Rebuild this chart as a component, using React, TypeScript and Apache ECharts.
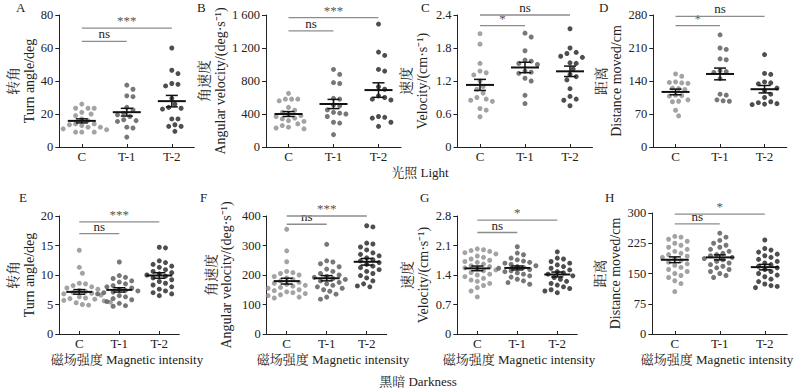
import React, { useEffect, useRef } from "react";
import * as echarts from "echarts";

// ---------- data ----------
const groupLabels = ["C", "T-1", "T-2"];

// Light: A turn angle (deg)
const lightTurnC = [26, 23.5, 23.5, 23.5, 21, 20, 19, 17, 16, 14, 14, 13.5, 13, 12, 12, 11, 10.5, 9, 9, 9];
const lightTurnT1 = [37.5, 35, 31, 30.5, 24, 22.5, 20.5, 19.5, 18.5, 16.5, 16, 15.5, 12, 11.5, 6];
const lightTurnT2 = [60, 46.5, 44.5, 38.5, 38, 37, 29.5, 26, 24, 23.5, 23, 17, 17, 13.5, 12.5, 12.5, 9.5];
// Light: B angular velocity
const lightAngVelC = [650, 580, 580, 580, 560, 480, 445, 420, 400, 380, 370, 350, 340, 320, 310, 280, 260, 240, 230, 220];
const lightAngVelT1 = [940, 880, 780, 770, 590, 580, 510, 500, 450, 420, 410, 400, 370, 300, 290, 150];
const lightAngVelT2 = [1490, 1150, 1110, 940, 920, 730, 700, 620, 600, 580, 570, 370, 360, 350, 300, 250];
// Light: C velocity
const lightVelC = [2.06, 1.87, 1.52, 1.38, 1.35, 1.31, 1.2, 1.1, 1.05, 0.98, 0.9, 0.87, 0.85, 0.83, 0.7, 0.67, 0.55];
const lightVelT1 = [2.07, 2.0, 1.75, 1.58, 1.56, 1.52, 1.5, 1.38, 1.36, 1.34, 1.25, 1.2, 0.94, 0.79];
const lightVelT2 = [2.15, 1.8, 1.72, 1.7, 1.65, 1.63, 1.53, 1.52, 1.42, 1.32, 1.28, 1.22, 1.06, 0.92, 0.87, 0.85, 0.75];
// Light: D distance moved
const lightDistC = [155, 150, 138, 137, 136, 135, 125, 124, 122, 110, 109, 108, 100, 97, 96, 78, 66];
const lightDistT1 = [238, 210, 207, 187, 185, 162, 160, 158, 145, 112, 110, 100, 98, 97];
const lightDistT2 = [196, 156, 154, 138, 136, 134, 125, 120, 112, 105, 96, 94, 92, 91, 90];

// Darkness: E turn angle
const darkTurnC = [14.2, 11.3, 10.3, 8.6, 8.5, 8.2, 8.0, 7.8, 7.6, 7.4, 7.2, 7.0, 6.9, 6.8, 6.6, 6.5, 6.3, 6.1, 6.0, 5.9, 5.7, 5.6, 5.5, 5.4, 5.3, 5.2, 5.0, 4.9];
const darkTurnT1 = [12.2, 9.9, 9.6, 9.4, 9.0, 8.8, 8.5, 8.2, 8.0, 7.8, 7.6, 7.4, 7.3, 7.1, 7.0, 6.8, 6.5, 6.3, 6.0, 5.8, 5.5, 5.2, 4.8, 4.7];
const darkTurnT2 = [14.7, 14.6, 12.4, 12.1, 11.8, 11.5, 11.3, 10.9, 10.6, 10.4, 10.2, 10.0, 9.8, 9.5, 9.2, 8.9, 8.6, 8.3, 8.0, 7.6, 7.3, 7.0, 6.8, 6.5];
// Darkness: F angular velocity
const darkAngVelC = [355, 282, 245, 212, 208, 205, 200, 195, 190, 185, 180, 175, 172, 168, 165, 162, 158, 155, 150, 147, 143, 140, 137, 133, 130, 125, 122];
const darkAngVelT1 = [304, 248, 244, 238, 228, 220, 212, 205, 200, 195, 192, 188, 185, 180, 175, 170, 165, 160, 155, 150, 145, 135, 125, 118];
const darkAngVelT2 = [367, 363, 308, 305, 295, 285, 275, 270, 265, 258, 252, 248, 242, 236, 230, 225, 218, 212, 205, 198, 190, 180, 170, 163, 160];
// Darkness: G velocity
const darkVelC = [2.02, 2.0, 1.98, 1.96, 1.93, 1.9, 1.85, 1.82, 1.78, 1.75, 1.72, 1.7, 1.66, 1.62, 1.6, 1.57, 1.55, 1.52, 1.5, 1.46, 1.42, 1.4, 1.36, 1.32, 1.28, 1.25, 1.2, 1.15, 1.1, 1.02, 0.88];
const darkVelT1 = [2.07, 1.92, 1.88, 1.8, 1.76, 1.73, 1.7, 1.68, 1.65, 1.62, 1.6, 1.58, 1.56, 1.53, 1.5, 1.48, 1.45, 1.42, 1.38, 1.35, 1.3, 1.26, 1.22, 1.18];
const darkVelT2 = [1.95, 1.8, 1.78, 1.72, 1.68, 1.64, 1.6, 1.56, 1.52, 1.48, 1.45, 1.42, 1.38, 1.34, 1.3, 1.25, 1.2, 1.16, 1.12, 1.08, 1.05, 1.02, 0.98];
// Darkness: H distance moved
const darkDistC = [242, 240, 235, 230, 225, 220, 215, 210, 205, 200, 197, 193, 190, 186, 182, 178, 174, 170, 165, 160, 155, 150, 145, 140, 132, 125, 105];
const darkDistT1 = [250, 240, 232, 225, 220, 215, 210, 205, 200, 197, 194, 190, 187, 184, 180, 176, 172, 168, 164, 160, 155, 150, 145, 140];
const darkDistT2 = [233, 212, 208, 203, 198, 194, 190, 185, 180, 176, 172, 168, 164, 160, 155, 150, 146, 142, 136, 130, 124, 120, 118, 115];

// significance comparisons (group index pairs and labels), lower bracket first
const lightTurnSig = [{ a: 0, b: 1, text: "ns" }, { a: 0, b: 2, text: "***" }];
const lightAngVelSig = [{ a: 0, b: 1, text: "ns" }, { a: 0, b: 2, text: "***" }];
const lightVelSig = [{ a: 0, b: 1, text: "*" }, { a: 0, b: 2, text: "ns" }];
const lightDistSig = [{ a: 0, b: 1, text: "*" }, { a: 0, b: 2, text: "ns" }];
const darkTurnSig = [{ a: 0, b: 1, text: "ns" }, { a: 0, b: 2, text: "***" }];
const darkAngVelSig = [{ a: 0, b: 1, text: "ns" }, { a: 0, b: 2, text: "***" }];
const darkVelSig = [{ a: 0, b: 1, text: "ns" }, { a: 0, b: 2, text: "*" }];
const darkDistSig = [{ a: 0, b: 1, text: "ns" }, { a: 0, b: 2, text: "*" }];

const panels = [
  { letter: "A", cn: "转角", en: "Turn angle/deg", max: 80, step: 20, groups: [lightTurnC, lightTurnT1, lightTurnT2], sig: lightTurnSig },
  { letter: "B", cn: "角速度", en: "Angular velocity/(deg·s⁻¹)", max: 1600, step: 400, groups: [lightAngVelC, lightAngVelT1, lightAngVelT2], sig: lightAngVelSig },
  { letter: "C", cn: "速度", en: "Velocity/(cm·s⁻¹)", max: 2.4, step: 0.6, groups: [lightVelC, lightVelT1, lightVelT2], sig: lightVelSig },
  { letter: "D", cn: "距离", en: "Distance moved/cm", max: 280, step: 70, groups: [lightDistC, lightDistT1, lightDistT2], sig: lightDistSig },
  { letter: "E", cn: "转角", en: "Turn angle/deg", max: 20, step: 5, groups: [darkTurnC, darkTurnT1, darkTurnT2], sig: darkTurnSig },
  { letter: "F", cn: "角速度", en: "Angular velocity/(deg·s⁻¹)", max: 400, step: 100, groups: [darkAngVelC, darkAngVelT1, darkAngVelT2], sig: darkAngVelSig },
  { letter: "G", cn: "速度", en: "Velocity/(cm·s⁻¹)", max: 2.8, step: 0.7, groups: [darkVelC, darkVelT1, darkVelT2], sig: darkVelSig },
  { letter: "H", cn: "距离", en: "Distance moved/cm", max: 300, step: 75, groups: [darkDistC, darkDistT1, darkDistT2], sig: darkDistSig },
];

const xAxisTitle = "磁场强度 Magnetic intensity";
const lightTitle = "光照 Light";
const darkTitle = "黑暗 Darkness";

// ---------- layout / style ----------
const layouts = [
  { left: 59.3, top: 15, width: 135, height: 132, nameGap: 21.5, sigFrac: [0.8, 0.9], lx: 16, ly: 7, mw: 14 },
  { left: 266, top: 15, width: 135, height: 132, nameGap: 36, sigFrac: [0.88, 0.98], lx: 197, ly: 7, mw: 14 },
  { left: 457.5, top: 15, width: 135, height: 132, nameGap: 27.5, sigFrac: [0.92, 1.0], lx: 421, ly: 7, mw: 14 },
  { left: 653.3, top: 15, width: 133.5, height: 132, nameGap: 27.5, sigFrac: [0.92, 0.99], lx: 599, ly: 7, mw: 14 },
  { left: 59.3, top: 216, width: 120, height: 118, nameGap: 21.5, sigFrac: [0.85, 0.95], lx: 19, ly: 197, mw: 13, xname: 127 },
  { left: 266.7, top: 216, width: 120, height: 118, nameGap: 32, sigFrac: [0.93, 1.0], lx: 200, ly: 197, mw: 13, xname: 333 },
  { left: 457.3, top: 216, width: 120, height: 118, nameGap: 26.5, sigFrac: [0.86, 0.965], lx: 420, ly: 197, mw: 13, xname: 519 },
  { left: 652.3, top: 213, width: 135, height: 121, nameGap: 26.5, sigFrac: [0.91, 0.99], lx: 605, ly: 197, mw: 14, xname: 717 },
];

const FONT = "'Liberation Serif', 'Times New Roman', 'Noto Serif CJK SC', 'Noto Sans CJK SC', serif";
const TEXT = "#222";
const AXIS = "#222";
const dotColors = ["#8c8c8c", "#555555", "#222222"];
const DOT = 5;

function swarmOffsets(vals: number[], pyu: number, d: number): number[] {
  const order = vals.map((_, i) => i).sort((a, b) => vals[b] - vals[a]);
  const placed: [number, number][] = [];
  const offs = new Array(vals.length).fill(0);
  for (const i of order) {
    const y = vals[i] * pyu;
    let chosen = 0;
    for (let k = 0; k < 80; k++) {
      const cand = k === 0 ? 0 : (k % 2 === 1 ? 1 : -1) * Math.ceil(k / 2) * d * 0.5;
      if (placed.every(([px, py]) => Math.hypot(px - cand, py - y) >= d)) {
        chosen = cand;
        break;
      }
    }
    placed.push([chosen, y]);
    offs[i] = chosen;
  }
  return offs;
}

function meanSem(v: number[]) {
  const n = v.length;
  const m = v.reduce((s, x) => s + x, 0) / n;
  const sd = Math.sqrt(v.reduce((s, x) => s + (x - m) * (x - m), 0) / (n - 1));
  return [m, sd / Math.sqrt(n)];
}

function fmtY(max: number) {
  return (v: number) => {
    if (v === 0) return "0";
    if (max < 10) return v.toFixed(1);
    if (v >= 1000) return `${Math.floor(v / 1000)} ${String(Math.round(v % 1000)).padStart(3, "0")}`;
    return String(Math.round(v));
  };
}

function buildOption() {
  const grids: any[] = [];
  const xAxes: any[] = [];
  const yAxes: any[] = [];
  const series: any[] = [];
  const graphics: any[] = [];

  panels.forEach((p, i) => {
    const L = layouts[i];
    grids.push({ left: L.left, top: L.top, width: L.width, height: L.height, containLabel: false });
    xAxes.push({
      gridIndex: i,
      type: "value",
      min: 0.5,
      max: 3.5,
      axisLine: { show: true, lineStyle: { color: AXIS, width: 1 } },
      axisTick: { show: true, inside: true, length: 3, customValues: [1, 2, 3], lineStyle: { color: AXIS } },
      axisLabel: {
        customValues: [1, 2, 3],
        formatter: (v: number) => groupLabels[Math.round(v) - 1] ?? "",
        color: TEXT,
        fontFamily: FONT,
        fontSize: 13,
        margin: 3,
      },
      splitLine: { show: false },
    });
    yAxes.push({
      gridIndex: i,
      type: "value",
      min: 0,
      max: p.max,
      interval: p.step,
      axisLine: { show: true, lineStyle: { color: AXIS, width: 1 } },
      axisTick: { show: true, length: 4, lineStyle: { color: AXIS } },
      axisLabel: { formatter: fmtY(p.max), color: TEXT, fontFamily: FONT, fontSize: 12.5, margin: 6 },
      splitLine: { show: false },
      name: `${p.cn}\n${p.en}`,
      nameLocation: "middle",
      nameRotate: 90,
      nameGap: L.nameGap,
      nameTextStyle: { color: TEXT, fontFamily: FONT, fontSize: 14, lineHeight: 15.5 },
    });

    const pyu = L.height / p.max;
    const pxu = L.width / 3;
    p.groups.forEach((vals, g) => {
      const offs = swarmOffsets(vals, pyu, 6.2);
      series.push({
        type: "scatter",
        xAxisIndex: i,
        yAxisIndex: i,
        symbol: "circle",
        symbolSize: DOT,
        itemStyle: { color: dotColors[g] },
        z: 2,
        data: vals.map((v, k) => [g + 1 + offs[k] / pxu, v]),
      });
    });

    const stats = p.groups.map((vals, g) => {
      const [m, s] = meanSem(vals);
      return [g + 1, m, s];
    });
    const mw = L.mw;
    series.push({
      type: "custom",
      xAxisIndex: i,
      yAxisIndex: i,
      z: 5,
      encode: { x: 0, y: 1 },
      data: stats,
      renderItem: (params: any, api: any) => {
        const x = api.value(0);
        const m = api.value(1);
        const s = api.value(2);
        const c = api.coord([x, m]);
        const hi = api.coord([x, m + s]);
        const lo = api.coord([x, m - s]);
        const st = { stroke: "#111", lineWidth: 2 };
        const st2 = { stroke: "#111", lineWidth: 1.5 };
        return {
          type: "group",
          children: [
            { type: "line", shape: { x1: c[0] - mw, y1: c[1], x2: c[0] + mw, y2: c[1] }, style: st },
            { type: "line", shape: { x1: c[0], y1: hi[1], x2: c[0], y2: lo[1] }, style: st2 },
            { type: "line", shape: { x1: c[0] - 6, y1: hi[1], x2: c[0] + 6, y2: hi[1] }, style: st2 },
            { type: "line", shape: { x1: c[0] - 6, y1: lo[1], x2: c[0] + 6, y2: lo[1] }, style: st2 },
          ],
        };
      },
    });

    const sigData = p.sig.map((s, k) => [s.a + 1, s.b + 1, L.sigFrac[k] * p.max]);
    const sigTexts = p.sig.map((s) => s.text);
    series.push({
      type: "custom",
      xAxisIndex: i,
      yAxisIndex: i,
      z: 4,
      clip: false,
      encode: { x: [0, 1], y: 2 },
      data: sigData,
      renderItem: (params: any, api: any) => {
        const a = api.coord([api.value(0), api.value(2)]);
        const b = api.coord([api.value(1), api.value(2)]);
        const txt = sigTexts[params.dataIndex];
        return {
          type: "group",
          children: [
            { type: "line", shape: { x1: a[0], y1: a[1], x2: b[0], y2: b[1] }, style: { stroke: "#8c8c8c", lineWidth: 1.3 } },
            {
              type: "text",
              x: (a[0] + b[0]) / 2,
              y: a[1] - 1,
              style: {
                text: txt,
                textAlign: "center",
                textVerticalAlign: "bottom",
                fill: txt === "ns" ? "#222" : "#555",
                fontFamily: FONT,
                fontSize: 13,
              },
            },
          ],
        };
      },
    });

    graphics.push({
      type: "text",
      left: L.lx,
      top: L.ly - 6,
      style: { text: p.letter, fill: TEXT, fontFamily: FONT, fontSize: 13 },
    });
    if ((L as any).xname !== undefined) {
      graphics.push({
        type: "text",
        x: (L as any).xname,
        y: 359,
        style: { text: xAxisTitle, fill: TEXT, fontFamily: FONT, fontSize: 13, textAlign: "center", textVerticalAlign: "middle" },
      });
    }
  });

  graphics.push({
    type: "text",
    x: 420,
    y: 172,
    style: { text: lightTitle, fill: TEXT, fontFamily: FONT, fontSize: 13, textAlign: "center", textVerticalAlign: "middle" },
  });
  graphics.push({
    type: "text",
    x: 418,
    y: 381,
    style: { text: darkTitle, fill: TEXT, fontFamily: FONT, fontSize: 13, textAlign: "center", textVerticalAlign: "middle" },
  });

  return {
    animation: false,
    backgroundColor: "#ffffff",
    textStyle: { fontFamily: FONT },
    grid: grids,
    xAxis: xAxes,
    yAxis: yAxes,
    series,
    graphic: graphics,
  };
}

export default function App() {
  const ref = useRef<HTMLDivElement>(null);
  useEffect(() => {
    if (!ref.current) return;
    const chart = echarts.init(ref.current, undefined, { renderer: "svg" });
    chart.setOption(buildOption() as any);
    return () => chart.dispose();
  }, []);
  return (
    <div
      ref={ref}
      style={{ position: "absolute", left: 0, top: 0, width: 800, height: 389, background: "#fff" }}
    />
  );
}
